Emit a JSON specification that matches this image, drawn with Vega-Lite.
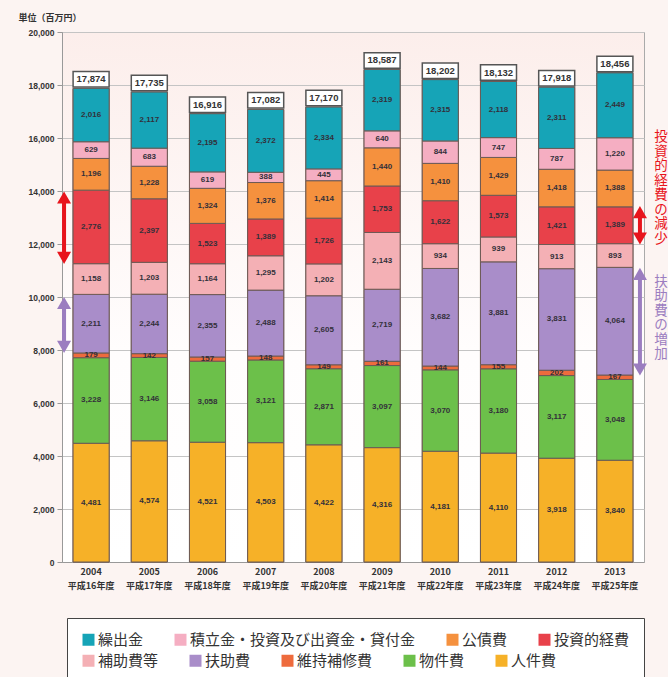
{
  "$schema": "https://vega.github.io/schema/vega-lite/v6.json",
  "width": 582,
  "height": 530,
  "autosize": {"type": "none"},
  "padding": {"left": 62, "top": 32, "right": 24, "bottom": 115},
  "background": "#FCF4F2",
  "config": {
    "font": "Noto Sans CJK JP",
    "view": {
      "stroke": "#aaaaaa",
      "fill": {"gradient": "linear", "x1": 0, "y1": 0, "x2": 0, "y2": 1, "stops": [{"offset": 0, "color": "#FCEEEB"}, {"offset": 0.6, "color": "#FFFDFD"}, {"offset": 1, "color": "#FFFFFF"}]}
    }
  },
  "datasets": {
    "costs": [
      {"fy": "2004 平成16年度", "cat": "人件費", "k": 1, "v": 4481},
      {"fy": "2004 平成16年度", "cat": "物件費", "k": 2, "v": 3228},
      {"fy": "2004 平成16年度", "cat": "維持補修費", "k": 3, "v": 179},
      {"fy": "2004 平成16年度", "cat": "扶助費", "k": 4, "v": 2211},
      {"fy": "2004 平成16年度", "cat": "補助費等", "k": 5, "v": 1158},
      {"fy": "2004 平成16年度", "cat": "投資的経費", "k": 6, "v": 2776},
      {"fy": "2004 平成16年度", "cat": "公債費", "k": 7, "v": 1196},
      {"fy": "2004 平成16年度", "cat": "積立金・投資及び出資金・貸付金", "k": 8, "v": 629},
      {"fy": "2004 平成16年度", "cat": "繰出金", "k": 9, "v": 2016},
      {"fy": "2005 平成17年度", "cat": "人件費", "k": 1, "v": 4574},
      {"fy": "2005 平成17年度", "cat": "物件費", "k": 2, "v": 3146},
      {"fy": "2005 平成17年度", "cat": "維持補修費", "k": 3, "v": 142},
      {"fy": "2005 平成17年度", "cat": "扶助費", "k": 4, "v": 2244},
      {"fy": "2005 平成17年度", "cat": "補助費等", "k": 5, "v": 1203},
      {"fy": "2005 平成17年度", "cat": "投資的経費", "k": 6, "v": 2397},
      {"fy": "2005 平成17年度", "cat": "公債費", "k": 7, "v": 1228},
      {"fy": "2005 平成17年度", "cat": "積立金・投資及び出資金・貸付金", "k": 8, "v": 683},
      {"fy": "2005 平成17年度", "cat": "繰出金", "k": 9, "v": 2117},
      {"fy": "2006 平成18年度", "cat": "人件費", "k": 1, "v": 4521},
      {"fy": "2006 平成18年度", "cat": "物件費", "k": 2, "v": 3058},
      {"fy": "2006 平成18年度", "cat": "維持補修費", "k": 3, "v": 157},
      {"fy": "2006 平成18年度", "cat": "扶助費", "k": 4, "v": 2355},
      {"fy": "2006 平成18年度", "cat": "補助費等", "k": 5, "v": 1164},
      {"fy": "2006 平成18年度", "cat": "投資的経費", "k": 6, "v": 1523},
      {"fy": "2006 平成18年度", "cat": "公債費", "k": 7, "v": 1324},
      {"fy": "2006 平成18年度", "cat": "積立金・投資及び出資金・貸付金", "k": 8, "v": 619},
      {"fy": "2006 平成18年度", "cat": "繰出金", "k": 9, "v": 2195},
      {"fy": "2007 平成19年度", "cat": "人件費", "k": 1, "v": 4503},
      {"fy": "2007 平成19年度", "cat": "物件費", "k": 2, "v": 3121},
      {"fy": "2007 平成19年度", "cat": "維持補修費", "k": 3, "v": 148},
      {"fy": "2007 平成19年度", "cat": "扶助費", "k": 4, "v": 2488},
      {"fy": "2007 平成19年度", "cat": "補助費等", "k": 5, "v": 1295},
      {"fy": "2007 平成19年度", "cat": "投資的経費", "k": 6, "v": 1389},
      {"fy": "2007 平成19年度", "cat": "公債費", "k": 7, "v": 1376},
      {"fy": "2007 平成19年度", "cat": "積立金・投資及び出資金・貸付金", "k": 8, "v": 388},
      {"fy": "2007 平成19年度", "cat": "繰出金", "k": 9, "v": 2372},
      {"fy": "2008 平成20年度", "cat": "人件費", "k": 1, "v": 4422},
      {"fy": "2008 平成20年度", "cat": "物件費", "k": 2, "v": 2871},
      {"fy": "2008 平成20年度", "cat": "維持補修費", "k": 3, "v": 149},
      {"fy": "2008 平成20年度", "cat": "扶助費", "k": 4, "v": 2605},
      {"fy": "2008 平成20年度", "cat": "補助費等", "k": 5, "v": 1202},
      {"fy": "2008 平成20年度", "cat": "投資的経費", "k": 6, "v": 1726},
      {"fy": "2008 平成20年度", "cat": "公債費", "k": 7, "v": 1414},
      {"fy": "2008 平成20年度", "cat": "積立金・投資及び出資金・貸付金", "k": 8, "v": 445},
      {"fy": "2008 平成20年度", "cat": "繰出金", "k": 9, "v": 2334},
      {"fy": "2009 平成21年度", "cat": "人件費", "k": 1, "v": 4316},
      {"fy": "2009 平成21年度", "cat": "物件費", "k": 2, "v": 3097},
      {"fy": "2009 平成21年度", "cat": "維持補修費", "k": 3, "v": 161},
      {"fy": "2009 平成21年度", "cat": "扶助費", "k": 4, "v": 2719},
      {"fy": "2009 平成21年度", "cat": "補助費等", "k": 5, "v": 2143},
      {"fy": "2009 平成21年度", "cat": "投資的経費", "k": 6, "v": 1753},
      {"fy": "2009 平成21年度", "cat": "公債費", "k": 7, "v": 1440},
      {"fy": "2009 平成21年度", "cat": "積立金・投資及び出資金・貸付金", "k": 8, "v": 640},
      {"fy": "2009 平成21年度", "cat": "繰出金", "k": 9, "v": 2319},
      {"fy": "2010 平成22年度", "cat": "人件費", "k": 1, "v": 4181},
      {"fy": "2010 平成22年度", "cat": "物件費", "k": 2, "v": 3070},
      {"fy": "2010 平成22年度", "cat": "維持補修費", "k": 3, "v": 144},
      {"fy": "2010 平成22年度", "cat": "扶助費", "k": 4, "v": 3682},
      {"fy": "2010 平成22年度", "cat": "補助費等", "k": 5, "v": 934},
      {"fy": "2010 平成22年度", "cat": "投資的経費", "k": 6, "v": 1622},
      {"fy": "2010 平成22年度", "cat": "公債費", "k": 7, "v": 1410},
      {"fy": "2010 平成22年度", "cat": "積立金・投資及び出資金・貸付金", "k": 8, "v": 844},
      {"fy": "2010 平成22年度", "cat": "繰出金", "k": 9, "v": 2315},
      {"fy": "2011 平成23年度", "cat": "人件費", "k": 1, "v": 4110},
      {"fy": "2011 平成23年度", "cat": "物件費", "k": 2, "v": 3180},
      {"fy": "2011 平成23年度", "cat": "維持補修費", "k": 3, "v": 155},
      {"fy": "2011 平成23年度", "cat": "扶助費", "k": 4, "v": 3881},
      {"fy": "2011 平成23年度", "cat": "補助費等", "k": 5, "v": 939},
      {"fy": "2011 平成23年度", "cat": "投資的経費", "k": 6, "v": 1573},
      {"fy": "2011 平成23年度", "cat": "公債費", "k": 7, "v": 1429},
      {"fy": "2011 平成23年度", "cat": "積立金・投資及び出資金・貸付金", "k": 8, "v": 747},
      {"fy": "2011 平成23年度", "cat": "繰出金", "k": 9, "v": 2118},
      {"fy": "2012 平成24年度", "cat": "人件費", "k": 1, "v": 3918},
      {"fy": "2012 平成24年度", "cat": "物件費", "k": 2, "v": 3117},
      {"fy": "2012 平成24年度", "cat": "維持補修費", "k": 3, "v": 202},
      {"fy": "2012 平成24年度", "cat": "扶助費", "k": 4, "v": 3831},
      {"fy": "2012 平成24年度", "cat": "補助費等", "k": 5, "v": 913},
      {"fy": "2012 平成24年度", "cat": "投資的経費", "k": 6, "v": 1421},
      {"fy": "2012 平成24年度", "cat": "公債費", "k": 7, "v": 1418},
      {"fy": "2012 平成24年度", "cat": "積立金・投資及び出資金・貸付金", "k": 8, "v": 787},
      {"fy": "2012 平成24年度", "cat": "繰出金", "k": 9, "v": 2311},
      {"fy": "2013 平成25年度", "cat": "人件費", "k": 1, "v": 3840},
      {"fy": "2013 平成25年度", "cat": "物件費", "k": 2, "v": 3048},
      {"fy": "2013 平成25年度", "cat": "維持補修費", "k": 3, "v": 167},
      {"fy": "2013 平成25年度", "cat": "扶助費", "k": 4, "v": 4064},
      {"fy": "2013 平成25年度", "cat": "補助費等", "k": 5, "v": 893},
      {"fy": "2013 平成25年度", "cat": "投資的経費", "k": 6, "v": 1389},
      {"fy": "2013 平成25年度", "cat": "公債費", "k": 7, "v": 1388},
      {"fy": "2013 平成25年度", "cat": "積立金・投資及び出資金・貸付金", "k": 8, "v": 1220},
      {"fy": "2013 平成25年度", "cat": "繰出金", "k": 9, "v": 2449}
    ],
    "totals": [
      {"fy": "2004 平成16年度", "total": 17874},
      {"fy": "2005 平成17年度", "total": 17735},
      {"fy": "2006 平成18年度", "total": 16916},
      {"fy": "2007 平成19年度", "total": 17082},
      {"fy": "2008 平成20年度", "total": 17170},
      {"fy": "2009 平成21年度", "total": 18587},
      {"fy": "2010 平成22年度", "total": 18202},
      {"fy": "2011 平成23年度", "total": 18132},
      {"fy": "2012 平成24年度", "total": 17918},
      {"fy": "2013 平成25年度", "total": 18456}
    ],
    "arrows": [
      {"side": "L", "kind": "減少", "fy": "2004 平成16年度", "top": 13980, "bottom": 11250},
      {"side": "L", "kind": "増加", "fy": "2004 平成16年度", "top": 10000, "bottom": 7890},
      {"side": "R", "kind": "減少", "fy": "2013 平成25年度", "top": 13430, "bottom": 11980},
      {"side": "R", "kind": "増加", "fy": "2013 平成25年度", "top": 11100, "bottom": 7040}
    ],
    "notes": [
      {"kind": "減少", "fy": "2013 平成25年度", "y": 16300, "t": "投\n資\n的\n経\n費\nの\n減\n少"},
      {"kind": "増加", "fy": "2013 平成25年度", "y": 10840, "t": "扶\n助\n費\nの\n増\n加"}
    ]
  },
  "encoding": {
    "x": {
      "field": "fy", "type": "nominal", "sort": null,
      "scale": {"paddingInner": 0.38, "paddingOuter": 0.19},
      "axis": {
        "title": null, "labelAngle": 0, "labelExpr": "split(datum.label, ' ')",
        "labelFont": "Noto Sans CJK JP", "labelFontSize": 9, "labelFontWeight": "bold",
        "labelColor": "#333333", "labelLineHeight": 14, "labelPadding": 5,
        "ticks": false, "domainColor": "#999999"
      }
    }
  },
  "layer": [
    {
      "data": {"name": "costs"},
      "mark": {"type": "bar", "stroke": "#6d5a55", "strokeWidth": 1},
      "encoding": {
        "y": {
          "field": "v", "type": "quantitative", "stack": "zero",
          "scale": {"domain": [0, 20000], "nice": false},
          "axis": {
            "values": [0, 2000, 4000, 6000, 8000, 10000, 12000, 14000, 16000, 18000, 20000],
            "format": ",", "labelExpr": "format(datum.value, ',')",
            "labelFont": "Liberation Sans", "labelFontSize": 8.5, "labelFontWeight": "bold",
            "labelColor": "#333333", "labelPadding": 3, "tickSize": 5, "tickColor": "#999999",
            "domainColor": "#999999", "gridColor": "#c4c4c4",
            "title": "単位（百万円）", "titleAngle": 0, "titleAlign": "left", "titleBaseline": "middle",
            "titleX": -44, "titleY": -15, "titleFontSize": 9, "titleFontWeight": "bold", "titleColor": "#333333"
          }
        },
        "order": {"field": "k", "type": "quantitative"},
        "color": {
          "field": "cat", "type": "nominal",
          "scale": {
            "domain": ["繰出金", "積立金・投資及び出資金・貸付金", "公債費", "投資的経費", "補助費等", "扶助費", "維持補修費", "物件費", "人件費"],
            "range": ["#16A4B7", "#F5AEC2", "#F5913E", "#E8414A", "#F4B0B5", "#A98DC9", "#EE6B3D", "#6CC04A", "#F6B128"]
          },
          "legend": {
            "values": ["繰出金", "積立金・投資及び出資金・貸付金", "公債費", "投資的経費"],
            "orient": "none", "legendX": 5, "legendY": 586, "direction": "horizontal", "columns": 4,
            "columnPadding": 29, "title": " ", "titleOrient": "bottom", "titlePadding": 12, "titleFontSize": 15,
            "padding": 14, "strokeColor": "#444444", "fillColor": "#ffffff",
            "symbolType": "square", "symbolSize": 144, "symbolStrokeWidth": 0,
            "labelFontSize": 15, "labelLimit": 400, "labelOffset": 2, "labelColor": "#333333",
            "labelFont": "Noto Sans CJK JP"
          }
        }
      }
    },
    {
      "data": {"name": "costs"},
      "mark": {"type": "bar", "stroke": "#6d5a55", "strokeWidth": 1},
      "encoding": {
        "y": {"field": "v", "type": "quantitative", "stack": "zero"},
        "order": {"field": "k", "type": "quantitative"},
        "color": {
          "field": "cat", "type": "nominal",
          "legend": {
            "values": ["補助費等", "扶助費", "維持補修費", "物件費", "人件費"],
            "orient": "none", "legendX": 19, "legendY": 621, "direction": "horizontal", "columns": 5,
            "columnPadding": 29, "title": null, "padding": 0,
            "symbolType": "square", "symbolSize": 144, "symbolStrokeWidth": 0,
            "labelFontSize": 15, "labelLimit": 400, "labelOffset": 2, "labelColor": "#333333",
            "labelFont": "Noto Sans CJK JP"
          }
        }
      }
    },
    {
      "data": {"name": "costs"},
      "mark": {"type": "text", "font": "Liberation Sans", "fontSize": 8, "fontWeight": "bold", "color": "#33303a", "baseline": "middle"},
      "encoding": {
        "y": {"field": "v", "type": "quantitative", "stack": "zero", "bandPosition": 0.5},
        "order": {"field": "k", "type": "quantitative"},
        "detail": {"field": "cat"},
        "text": {"field": "v", "type": "quantitative", "format": ","}
      }
    },
    {
      "data": {"name": "totals"},
      "mark": {"type": "point", "shape": "M-1,-0.43L1,-0.43L1,0.43L-1,0.43Z", "size": 1296, "filled": true, "fill": "#ffffff", "stroke": "#555555", "strokeWidth": 1.5, "opacity": 1, "yOffset": -9},
      "encoding": {"y": {"field": "total", "type": "quantitative"}}
    },
    {
      "data": {"name": "totals"},
      "mark": {"type": "text", "font": "Liberation Sans", "fontSize": 9.5, "fontWeight": "bold", "color": "#333333", "baseline": "middle", "yOffset": -9},
      "encoding": {
        "y": {"field": "total", "type": "quantitative"},
        "text": {"field": "total", "type": "quantitative", "format": ","}
      }
    },
    {
      "data": {"name": "arrows"},
      "transform": [{"filter": "datum.side == 'L'"}],
      "mark": {"type": "rule", "strokeWidth": 4, "xOffset": -9, "yOffset": 6, "y2Offset": -6},
      "encoding": {
        "x": {"field": "fy", "type": "nominal", "bandPosition": 0},
        "y": {"field": "top", "type": "quantitative"},
        "y2": {"field": "bottom"},
        "stroke": {"field": "kind", "type": "nominal", "scale": {"domain": ["減少", "増加"], "range": ["#E8141C", "#9B7DC0"]}, "legend": null}
      }
    },
    {
      "data": {"name": "arrows"},
      "transform": [{"filter": "datum.side == 'L'"}],
      "mark": {"type": "point", "shape": "triangle-up", "size": 196, "filled": true, "opacity": 1, "strokeWidth": 0, "xOffset": -9, "yOffset": 6},
      "encoding": {
        "x": {"field": "fy", "type": "nominal", "bandPosition": 0},
        "y": {"field": "top", "type": "quantitative"},
        "fill": {"field": "kind", "type": "nominal", "scale": {"domain": ["減少", "増加"], "range": ["#E8141C", "#9B7DC0"]}, "legend": null}
      }
    },
    {
      "data": {"name": "arrows"},
      "transform": [{"filter": "datum.side == 'L'"}],
      "mark": {"type": "point", "shape": "triangle-down", "size": 196, "filled": true, "opacity": 1, "strokeWidth": 0, "xOffset": -9, "yOffset": -6},
      "encoding": {
        "x": {"field": "fy", "type": "nominal", "bandPosition": 0},
        "y": {"field": "bottom", "type": "quantitative"},
        "fill": {"field": "kind", "type": "nominal", "legend": null}
      }
    },
    {
      "data": {"name": "arrows"},
      "transform": [{"filter": "datum.side == 'R'"}],
      "mark": {"type": "rule", "strokeWidth": 4, "xOffset": 7, "yOffset": 6, "y2Offset": -6},
      "encoding": {
        "x": {"field": "fy", "type": "nominal", "bandPosition": 1},
        "y": {"field": "top", "type": "quantitative"},
        "y2": {"field": "bottom"},
        "stroke": {"field": "kind", "type": "nominal", "legend": null}
      }
    },
    {
      "data": {"name": "arrows"},
      "transform": [{"filter": "datum.side == 'R'"}],
      "mark": {"type": "point", "shape": "triangle-up", "size": 196, "filled": true, "opacity": 1, "strokeWidth": 0, "xOffset": 7, "yOffset": 6},
      "encoding": {
        "x": {"field": "fy", "type": "nominal", "bandPosition": 1},
        "y": {"field": "top", "type": "quantitative"},
        "fill": {"field": "kind", "type": "nominal", "legend": null}
      }
    },
    {
      "data": {"name": "arrows"},
      "transform": [{"filter": "datum.side == 'R'"}],
      "mark": {"type": "point", "shape": "triangle-down", "size": 196, "filled": true, "opacity": 1, "strokeWidth": 0, "xOffset": 7, "yOffset": -6},
      "encoding": {
        "x": {"field": "fy", "type": "nominal", "bandPosition": 1},
        "y": {"field": "bottom", "type": "quantitative"},
        "fill": {"field": "kind", "type": "nominal", "legend": null}
      }
    },
    {
      "data": {"name": "notes"},
      "mark": {"type": "text", "font": "Noto Sans CJK JP", "fontSize": 13.5, "lineHeight": 14.5, "lineBreak": "\n", "align": "center", "baseline": "top", "xOffset": 28},
      "encoding": {
        "x": {"field": "fy", "type": "nominal", "bandPosition": 1},
        "y": {"field": "y", "type": "quantitative"},
        "text": {"field": "t"},
        "fill": {"field": "kind", "type": "nominal", "legend": null}
      }
    }
  ],
  "resolve": {"legend": {"color": "independent"}}
}
